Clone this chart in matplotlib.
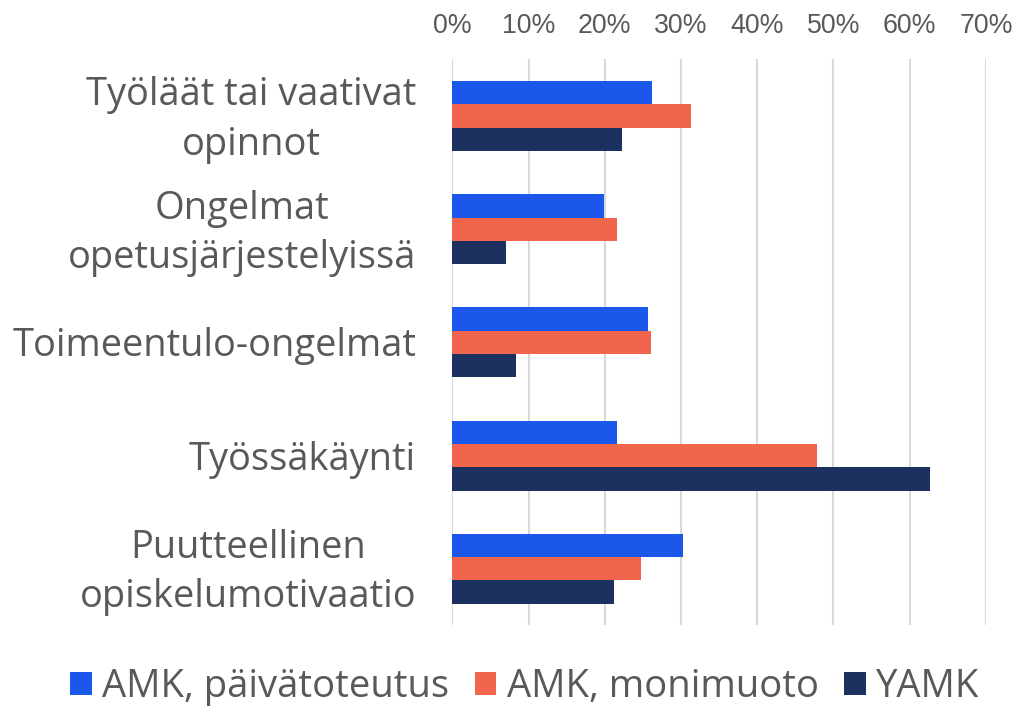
# Syitä opintojen keskeyttämiseen, vaakapalkit ryhmittäin
import matplotlib
matplotlib.use("Agg")
import matplotlib.pyplot as plt
import matplotlib.transforms as mtrans
import numpy as np
from matplotlib.ticker import PercentFormatter

categories = [
    "Työläät tai vaativat\nopinnot",
    "Ongelmat\nopetusjärjestelyissä",
    "Toimeentulo-ongelmat",
    "Työssäkäynti",
    "Puutteellinen\nopiskelumotivaatio",
]
series_names = ["AMK, päivätoteutus", "AMK, monimuoto", "YAMK"]
amk_paiva = [26.2, 19.9, 25.7, 21.6, 30.2]
amk_monimuoto = [31.3, 21.6, 26.0, 47.9, 24.8]
yamk = [22.3, 7.1, 8.4, 62.7, 21.2]
x_ticks = [0, 10, 20, 30, 40, 50, 60, 70]

colors = ["#1B57EB", "#F2654D", "#1C3160"]
text_color = "#595959"

plt.rcParams["font.family"] = ["Liberation Sans", "DejaVu Sans"]
wide = ["Open Sans", "DejaVu Sans"]

fig = plt.figure(figsize=(10.15, 7.07), dpi=100)
ax = fig.add_axes([0.4456, 0.1154, 0.5258, 0.8006])

y = np.arange(len(categories))
h = 0.206
for i, (vals, name) in enumerate(zip([amk_paiva, amk_monimuoto, yamk], series_names)):
    ax.barh(y + (i - 1) * h, vals, height=h, color=colors[i], label=name, zorder=3)

ax.set_ylim(len(categories) - 0.5, -0.5)
ax.set_xlim(0, 70)
ax.set_xticks(x_ticks)
ax.xaxis.set_major_formatter(PercentFormatter(decimals=0))
ax.xaxis.tick_top()
ax.grid(axis="x", color="#D9D9D9", linewidth=1.5, zorder=0)
ax.set_yticks(y)
ax.set_yticklabels(categories, multialignment="center", linespacing=1.38,
                   family=wide)
ax.tick_params(axis="x", length=0, pad=15, labelsize=19.3, labelcolor=text_color)
ax.tick_params(axis="y", length=0, pad=26, labelsize=27.4, labelcolor=text_color)
# hieman alemmas, kuten alkuperäisessä
shift = mtrans.ScaledTranslation(0, -0.04, fig.dpi_scale_trans)
for lab in ax.get_yticklabels():
    lab.set_verticalalignment("center")
    lab.set_transform(lab.get_transform() + shift)
for s in ax.spines.values():
    s.set_visible(False)

fig.legend(loc="center", bbox_to_anchor=(0.517, 1 - 687 / 707), ncol=3, frameon=False,
           prop={"family": wide, "size": 27.5}, labelcolor=text_color,
           handlelength=0.57, handleheight=0.57,
           handletextpad=0.27, columnspacing=0.66)

fig.savefig("out.png", dpi=100)
